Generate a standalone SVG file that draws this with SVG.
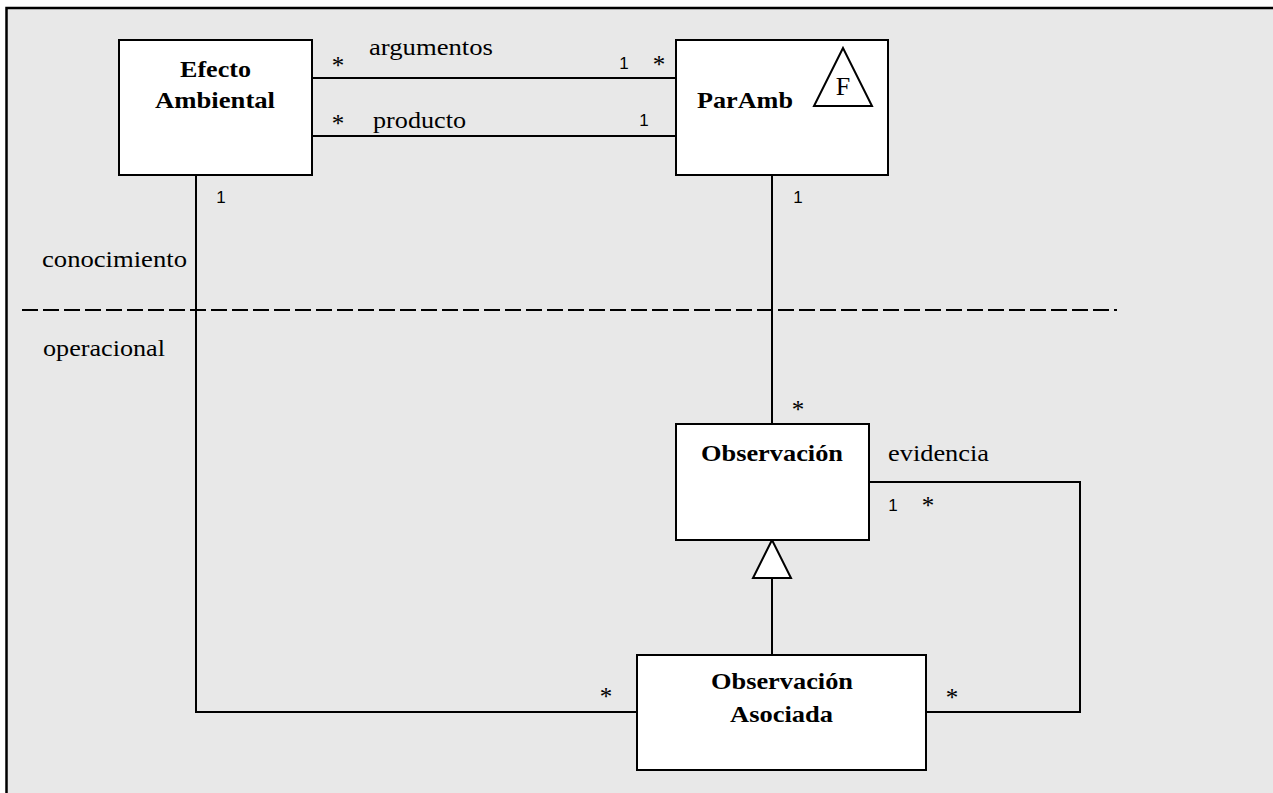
<svg xmlns="http://www.w3.org/2000/svg" width="1273" height="793" viewBox="0 0 1273 793">
<style>
.box{fill:#ffffff;stroke:#000000;stroke-width:2}
.ln{fill:none;stroke:#000000;stroke-width:2}
.t{font-family:'Liberation Serif','Times New Roman',Times,serif;font-size:24px;fill:#000000}
.b{font-family:'Liberation Serif','Times New Roman',Times,serif;font-size:24px;font-weight:bold;fill:#000000}
.ast{font-family:'Liberation Serif','Times New Roman',Times,serif;font-size:25px;fill:#000000;text-anchor:middle}
.one{font-family:'Liberation Sans',Arial,sans-serif;font-size:17px;fill:#000000;text-anchor:middle}
</style>
<rect x="0" y="0" width="1273" height="793" fill="#ffffff"/>
<rect id="frame" x="6.5" y="8" width="1300" height="800" fill="#e8e8e8" stroke="#000000" stroke-width="2.5"/>
<line x1="22" y1="310" x2="1117" y2="310" stroke="#000000" stroke-width="2" stroke-dasharray="16 5"/>
<text class="t" x="42" y="267" textLength="145" lengthAdjust="spacingAndGlyphs">conocimiento</text>
<text class="t" x="43" y="356" textLength="122" lengthAdjust="spacingAndGlyphs">operacional</text>
<g id="connectors">
<line class="ln" x1="312" y1="78" x2="676" y2="78"/>
<line class="ln" x1="312" y1="136" x2="676" y2="136"/>
<polyline class="ln" points="196,175 196,712 637,712"/>
<line class="ln" x1="772" y1="175" x2="772" y2="424"/>
<polyline class="ln" points="869,482 1080,482 1080,712 926,712"/>
<line class="ln" x1="772" y1="578" x2="772" y2="655"/>
<polygon class="box" points="772,540 753,578 791,578"/>
<text class="t" x="369" y="55" textLength="124" lengthAdjust="spacingAndGlyphs">argumentos</text>
<text class="t" x="373" y="128" textLength="93" lengthAdjust="spacingAndGlyphs">producto</text>
<text class="t" x="888" y="461" textLength="101" lengthAdjust="spacingAndGlyphs">evidencia</text>
<text class="ast" x="338" y="74">*</text>
<text class="ast" x="659" y="73">*</text>
<text class="ast" x="338" y="132">*</text>
<text class="ast" x="798" y="418">*</text>
<text class="ast" x="928" y="514">*</text>
<text class="ast" x="952" y="706">*</text>
<text class="ast" x="606" y="705">*</text>
<text class="one" x="624" y="69">1</text>
<text class="one" x="644" y="126">1</text>
<text class="one" x="221" y="203">1</text>
<text class="one" x="798" y="203">1</text>
<text class="one" x="893" y="511">1</text>
</g>
<g id="efecto-ambiental">
<rect class="box" x="119" y="40" width="193" height="135"/>
<text class="b" x="180" y="77" textLength="71" lengthAdjust="spacingAndGlyphs">Efecto</text>
<text class="b" x="155" y="108" textLength="120" lengthAdjust="spacingAndGlyphs">Ambiental</text>
</g>
<g id="paramb">
<rect class="box" x="676" y="40" width="212" height="135"/>
<text class="b" x="697" y="108" textLength="96" lengthAdjust="spacingAndGlyphs">ParAmb</text>
<polygon class="ln" points="843,48 814,106 872,106"/>
<text class="t" x="843" y="95" text-anchor="middle" style="font-size:26px">F</text>
</g>
<g id="observacion">
<rect class="box" x="676" y="424" width="193" height="116"/>
<text class="b" x="701" y="461" textLength="142" lengthAdjust="spacingAndGlyphs">Observación</text>
</g>
<g id="observacion-asociada">
<rect class="box" x="637" y="655" width="289" height="115"/>
<text class="b" x="711" y="689" textLength="142" lengthAdjust="spacingAndGlyphs">Observación</text>
<text class="b" x="730" y="722" textLength="103" lengthAdjust="spacingAndGlyphs">Asociada</text>
</g>
</svg>
